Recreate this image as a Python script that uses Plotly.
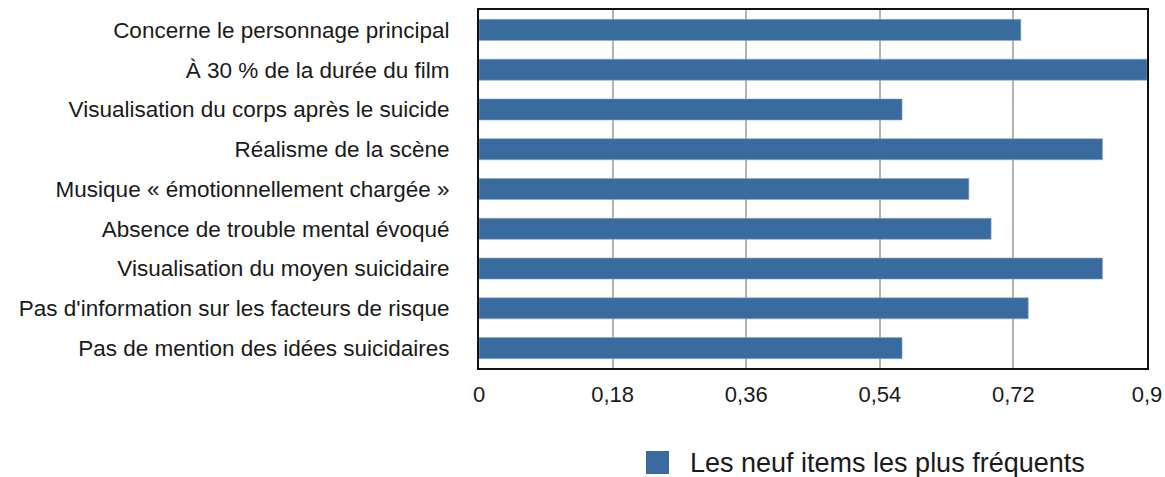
import plotly.graph_objects as go

categories = [
    "Concerne le personnage principal",
    "À 30 % de la durée du film",
    "Visualisation du corps après le suicide",
    "Réalisme de la scène",
    "Musique « émotionnellement chargée »",
    "Absence de trouble mental évoqué",
    "Visualisation du moyen suicidaire",
    "Pas d'information sur les facteurs de risque",
    "Pas de mention des idées suicidaires",
]
values = [0.73, 0.90, 0.57, 0.84, 0.66, 0.69, 0.84, 0.74, 0.57]
tick_vals = [0, 0.18, 0.36, 0.54, 0.72, 0.9]
tick_text = ["0", "0,18", "0,36", "0,54", "0,72", "0,9"]
series_name = "Les neuf items les plus fréquents"

BAR = "#3a6b9f"
FONT = "Liberation Sans, Arial, Helvetica, sans-serif"

fig = go.Figure()
fig.add_trace(go.Bar(
    y=categories, x=values, orientation="h", name=series_name,
    marker=dict(color=BAR, line=dict(color="#8fa9c8", width=0.6)),
    showlegend=False, hoverinfo="skip",
))

fig.update_layout(
    width=1165, height=477,
    margin=dict(l=479, r=18, t=10, b=109, autoexpand=False),
    paper_bgcolor="white", plot_bgcolor="white",
    bargap=0.47, hovermode=False,
    font=dict(family=FONT, size=22, color="#1a1a1a"),
    xaxis=dict(
        range=[0, 0.9], tickvals=tick_vals, ticktext=tick_text,
        showgrid=True, gridcolor="#b3b3b3", gridwidth=1.5,
        showline=True, linecolor="#111111", linewidth=1.8, mirror=True,
        zeroline=False, ticks="", ticklabelstandoff=6, automargin=False,
        tickfont=dict(size=22), fixedrange=True,
    ),
    yaxis=dict(
        autorange="reversed", showgrid=False,
        showline=True, linecolor="#111111", linewidth=1.8, mirror=True,
        ticks="", ticklabelstandoff=23, tickfont=dict(size=22.5),
        automargin=False, fixedrange=True,
    ),
)

# legend drawn as key square + text
fig.add_shape(type="rect", xref="paper", yref="paper",
              x0=(646 - 479) / 668, x1=(669 - 479) / 668,
              y0=(368 - 474) / 358, y1=(368 - 451) / 358,
              fillcolor=BAR, line=dict(width=0))
fig.add_annotation(xref="paper", yref="paper",
                   x=(688 - 479) / 668, y=(368 - 463) / 358,
                   xanchor="left", yanchor="middle", showarrow=False,
                   text=series_name, font=dict(size=27, color="#1a1a1a"))

fig.write_html(
    "out.html",
    config={"displayModeBar": False, "responsive": False},
    post_script="document.body.style.margin='0';document.documentElement.style.overflow='hidden';",
)
